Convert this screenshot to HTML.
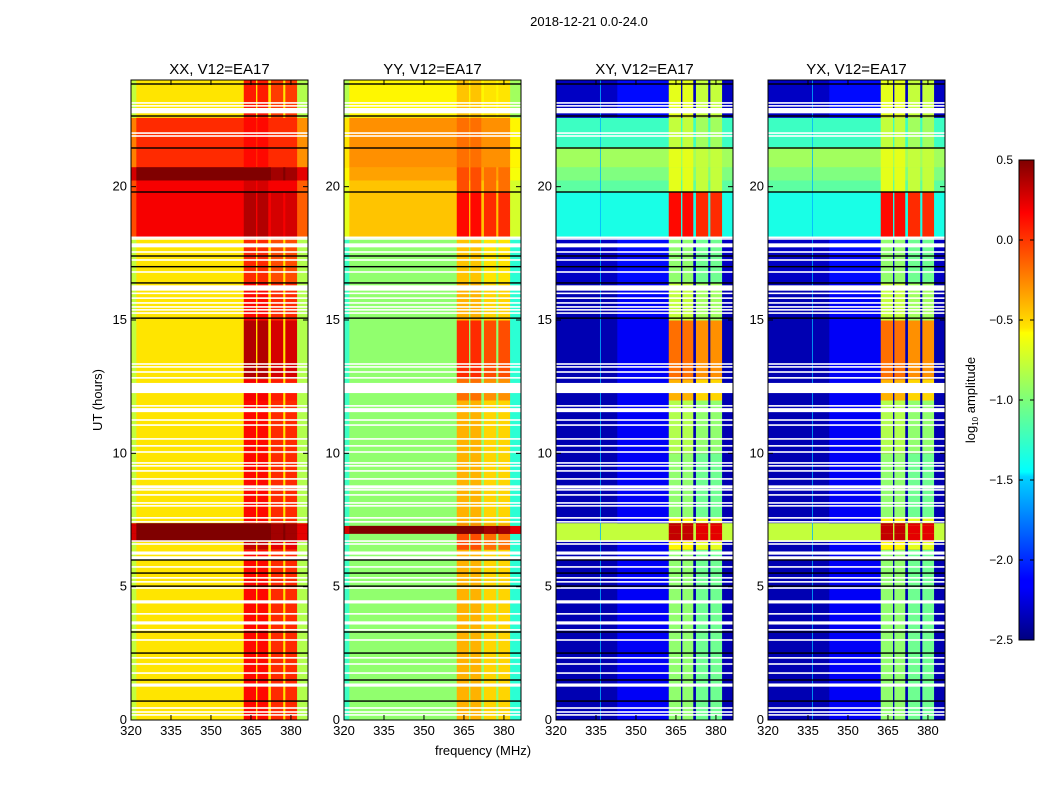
<!DOCTYPE html>
<html><head><meta charset="utf-8"><style>
body{margin:0;background:#fff;}
svg{display:block;font-family:"Liberation Sans",sans-serif;}
</style></head><body>
<svg id="fig" width="1050" height="800" viewBox="0 0 1050 800" xmlns="http://www.w3.org/2000/svg">
<defs>
<linearGradient id="jet" x1="0" y1="1" x2="0" y2="0">
<stop offset="0" stop-color="#00007f"/><stop offset="0.11" stop-color="#0000ff"/><stop offset="0.125" stop-color="#0000ff"/>
<stop offset="0.34" stop-color="#00d4ff"/><stop offset="0.35" stop-color="#0ff"/><stop offset="0.5" stop-color="#7dff7a"/>
<stop offset="0.64" stop-color="#ff0"/><stop offset="0.65" stop-color="#ffe600"/><stop offset="0.89" stop-color="#ff0000"/><stop offset="1" stop-color="#7f0000"/>
</linearGradient>
</defs>
<text x="589" y="26" font-size="13" text-anchor="middle">2018-12-21 0.0-24.0</text>
<text x="483" y="755" font-size="13" text-anchor="middle">frequency (MHz)</text>
<text transform="translate(102,400) rotate(-90)" font-size="13" text-anchor="middle">UT (hours)</text>
<g id="panels"></g>
<g>
<rect x="1019" y="160" width="15" height="480" fill="url(#jet)" stroke="#000" stroke-width="1"/>
<g id="cbticks"></g>
<text transform="translate(975,400) rotate(-90)" font-size="13" text-anchor="middle">log<tspan font-size="8" dy="3">10</tspan><tspan dy="-3"> amplitude</tspan></text>
</g>
</svg>
<script>
// ---- data ----
const panelTitles = ["XX, V12=EA17","YY, V12=EA17","XY, V12=EA17","YX, V12=EA17"];
const bandStart = [0,6.4,6.7,7.0,7.3,7.4,7.6,10,12,12.8,15,16.4,18.1,19.8,20.25,20.75,21.5,22.6];
const xxBase = [-0.55,-0.55,0.5,0.5,0.5,-0.55,-0.55,-0.55,-0.55,-0.55,-0.55,-0.55,0.15,0.15,0.5,0.0,0.0,-0.55];
const xxRfi  = [0.1,0.3,0.5,0.5,0.5,0.1,0.1,0.1,0.15,0.35,0.1,0.0,0.35,0.25,0.5,0.1,0.1,0.05];
const yyBase = [-0.95,-0.95,-0.95,0.5,-0.95,-0.95,-0.95,-0.95,-0.95,-0.95,-0.95,-0.95,-0.45,-0.45,-0.35,-0.3,-0.3,-0.6];
const yyRfi  = [-0.4,-0.1,-0.1,0.5,-0.3,-0.4,-0.4,-0.4,-0.2,0.0,-0.4,-0.45,0.1,-0.1,-0.1,-0.2,-0.2,-0.45];
const xyBase = [-2.35,-2.35,-0.8,-0.8,-0.8,-2.35,-2.35,-2.35,-2.35,-2.35,-2.35,-2.3,-1.3,-1.1,-1.0,-0.9,-1.2,-2.3];
const xyRfi  = [-0.95,-0.6,0.3,0.3,0.3,-0.6,-0.95,-0.85,-0.4,-0.2,-0.8,-0.95,0.1,-0.7,-0.7,-0.7,-0.8,-0.7];
const rfiStart = [362.3,367.4,372.5,377.9];
const rfiEnd   = [366.9,371.5,377.1,382.3];
const flagTimes = [23.14,23.03,22.85,22.01,21.9,18.1,18.04,17.8,17.55,17.25,16.8,16.2,16.0,15.82,15.64,15.49,15.38,15.26,
 13.35,13.24,13.05,12.83,12.45,11.78,11.62,11.25,11.06,10.54,10.28,10.05,9.64,9.53,9.34,9.04,8.74,8.63,8.44,8.14,8.03,
 7.58,7.43,6.71,6.6,6.26,6.08,5.74,5.33,5.18,4.95,4.43,3.98,3.64,3.38,3.0,2.33,2.1,1.76,1.31,0.45,0.3,0.19];
const flagWidths = [0.06,0.06,0.2,0.06,0.06,0.06,0.06,0.15,0.06,0.06,0.06,0.2,0.06,0.06,0.06,0.06,0.06,0.06,
 0.06,0.06,0.06,0.06,0.38,0.06,0.15,0.06,0.06,0.06,0.06,0.06,0.06,0.06,0.06,0.06,0.12,0.06,0.06,0.06,0.06,
 0.06,0.06,0.06,0.06,0.12,0.12,0.06,0.06,0.06,0.06,0.12,0.06,0.12,0.06,0.06,0.06,0.06,0.06,0.12,0.06,0.06,0.06];
const blackTimes = [23.85,22.65,21.45,19.8,17.4,17.0,16.39,15.07,6.0,5.51,5.02,3.3,2.51,1.5,0.71];
const xTicks = [320,335,350,365,380];
const yTicks = [0,5,10,15,20];
const cbTicks = [0.5,0.0,-0.5,-1.0,-1.5,-2.0,-2.5];

// ---- layout ----
const panelX = [131,344,556,768], PW=177, PT=80, PB=720;
const FMIN=320, FMAX=386.4, TMIN=0, TMAX=24, VMIN=-2.5, VMAX=0.5;
const NS="http://www.w3.org/2000/svg";
function xs(p,f){return panelX[p]+(f-FMIN)/(FMAX-FMIN)*PW;}
function ys(t){return PB-(t-TMIN)/(TMAX-TMIN)*(PB-PT);}
function jet(v){
  let x=(v-VMIN)/(VMAX-VMIN); x=Math.max(0,Math.min(1,x));
  const c=(a)=>Math.round(255*Math.max(0,Math.min(1,a)));
  const r=c(Math.min(4*x-1.5,-4*x+4.5)), g=c(Math.min(4*x-0.5,-4*x+3.5)), b=c(Math.min(4*x+0.5,-4*x+2.5));
  return `rgb(${r},${g},${b})`;
}
function mk(tag,attrs,parent){const e=document.createElementNS(NS,tag);for(const k in attrs)e.setAttribute(k,attrs[k]);parent.appendChild(e);return e;}
const panelsG=document.getElementById('panels');
const bases=[xxBase,yyBase,xyBase,xyBase], rfis=[xxRfi,yyRfi,xyRfi,xyRfi];
for(let p=0;p<4;p++){
  const g=mk('g',{},panelsG);
  
  
  const t=mk('text',{x:panelX[p]+PW/2,y:74,'font-size':15,'text-anchor':'middle'},g);
  
  
  t.textContent=panelTitles[p];
  for(let i=0;i<bandStart.length;i++){
    const t0=bandStart[i], t1=i+1<bandStart.length?bandStart[i+1]:TMAX;
    const y0=ys(t1), h=ys(t0)-ys(t1);
    const b=bases[p][i], r=rfis[p][i];
    const bg=mk('rect',{x:panelX[p],y:y0,width:PW,height:h+0.5,fill:jet(b)},g);
    
    
    if(p>=2){
      if(b<-2){
        const lb=mk('rect',{x:xs(p,343),y:y0,width:xs(p,362.3)-xs(p,343),height:h+0.5,fill:jet(b+0.2)},g);
        
        
      }
    } else {
      const ed=mk('rect',{x:xs(p,382.3),y:y0,width:xs(p,FMAX)-xs(p,382.3),height:h+0.5,fill:jet(b-0.3)},g);
      
      
      const le=mk('rect',{x:xs(p,320),y:y0,width:xs(p,322)-xs(p,320),height:h+0.5,fill:jet(b-0.25)},g);
      
      
    }
    for(let k=0;k<rfiStart.length;k++){
      const rc=mk('rect',{x:xs(p,rfiStart[k]),y:y0,width:xs(p,rfiEnd[k])-xs(p,rfiStart[k]),height:h+0.5,fill:jet(r-(k>=2?0.1:0))},g);
      
      
    }
  }
  if(p>=2){
    const vl=mk('rect',{x:xs(p,336.5),y:PT,width:1,height:PB-PT,fill:jet(-1.6),opacity:0.8},g);
    
    
  }
  for(let i=0;i<flagTimes.length;i++){
    const y0=ys(flagTimes[i]+flagWidths[i]/2), h=ys(flagTimes[i]-flagWidths[i]/2)-y0;
    const fr=mk('rect',{x:panelX[p],y:y0,width:PW,height:Math.max(h,1.4),fill:'#fff'},g);
    
    
  }
  for(const bt of blackTimes){
    const br=mk('rect',{x:panelX[p],y:ys(bt)-0.7,width:PW,height:1.4,fill:'#000'},g);
    
    
  }
  const fr=mk('rect',{x:panelX[p],y:PT,width:PW,height:PB-PT,fill:'none',stroke:'#000','stroke-width':1},g);
  
  
  for(const xt of xTicks){
    const x=xs(p,xt);
    mk('line',{x1:x,x2:x,y1:PB,y2:PB-5,stroke:'#000'},g);
    mk('line',{x1:x,x2:x,y1:PT,y2:PT+5,stroke:'#000'},g);
    const tl=mk('text',{x:x,y:PB+15,'font-size':13,'text-anchor':'middle'},g);
    
    
    tl.textContent=xt;
  }
  for(const yt of yTicks){
    const y=ys(yt);
    mk('line',{x1:panelX[p],x2:panelX[p]+5,y1:y,y2:y,stroke:'#000'},g);
    mk('line',{x1:panelX[p]+PW,x2:panelX[p]+PW-5,y1:y,y2:y,stroke:'#000'},g);
    const tl=mk('text',{x:panelX[p]-4,y:y+4,'font-size':13,'text-anchor':'end'},g);
    
    
    tl.textContent=yt;
  }
}
const cbg=document.getElementById('cbticks');
for(const v of cbTicks){
  const y=640-(v-VMIN)/(VMAX-VMIN)*480;
  mk('line',{x1:1019,x2:1023,y1:y,y2:y,stroke:'#000'},cbg);
  mk('line',{x1:1034,x2:1030,y1:y,y2:y,stroke:'#000'},cbg);
  const tl=mk('text',{x:1013,y:y+4,'font-size':12,'text-anchor':'end'},cbg);
  
  
  tl.textContent=(v<0?'\u2212':'')+Math.abs(v).toFixed(1);
}
</script>
</body></html>
